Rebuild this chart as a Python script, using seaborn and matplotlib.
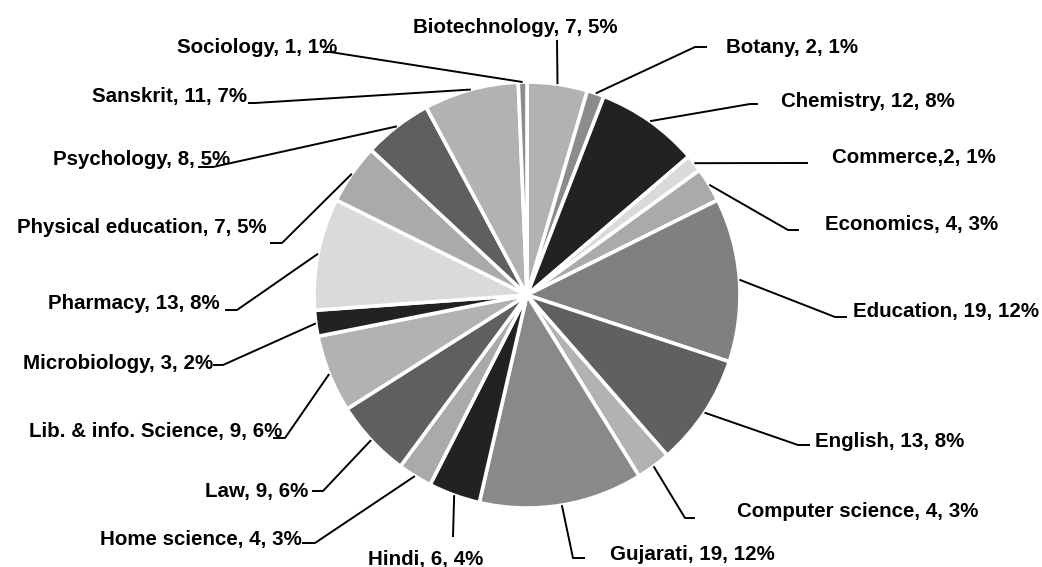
import numpy as np
import matplotlib
matplotlib.use('Agg')
import matplotlib.pyplot as plt
from matplotlib import font_manager
import seaborn as sns

# Subjects, clockwise from 12 o'clock
subjects = ['Biotechnology', 'Botany', 'Chemistry', 'Commerce', 'Economics', 'Education',
            'English', 'Computer science', 'Gujarati', 'Hindi', 'Home science', 'Law',
            'Lib. & info. Science', 'Microbiology', 'Pharmacy', 'Physical education',
            'Psychology', 'Sanskrit', 'Sociology']
counts = [7, 2, 12, 2, 4, 19, 13, 4, 19, 6, 4, 9, 9, 3, 13, 7, 8, 11, 1]
percents = [5, 1, 8, 1, 3, 12, 8, 3, 12, 4, 3, 6, 6, 2, 8, 5, 5, 7, 1]
# "Commerce,2, 1%" has no space in the original
separators = [', ', ', ', ', ', ',', ', ', ', ', ', ', ', ', ', ', ', ', ', ', ', ',
              ', ', ', ', ', ', ', ', ', ', ', ', ', ']
grays = ['#b2b2b2', '#8c8c8c', '#222222', '#dadada', '#aaaaaa', '#808080', '#606060',
         '#b2b2b2', '#898989', '#222222', '#aaaaaa', '#5f5f5f', '#b2b2b2', '#222222',
         '#dadada', '#aaaaaa', '#5f5f5f', '#b2b2b2', '#8c8c8c']

W, H = 1042, 567

# label layout in pixels from top-left: elbow point, end of leader, text anchor, alignment
label_layout = [
    ((557, 40), (557, 40), (413, 33), 'left'),
    ((695, 47), (707, 47), (726, 53), 'left'),
    ((750, 104), (758, 104), (781, 107), 'left'),
    ((800, 163), (808, 163), (832, 163), 'left'),
    ((788, 230), (799, 230), (825, 230), 'left'),
    ((835, 317), (847, 317), (853, 317), 'left'),
    ((798, 445), (810, 445), (815, 447), 'left'),
    ((685, 518), (695, 518), (737, 517), 'left'),
    ((573, 558), (585, 558), (610, 560), 'left'),
    ((453, 537), (453, 537), (368, 565), 'left'),
    ((315, 543), (302, 543), (302, 545), 'right'),
    ((323, 491), (312, 491), (308, 497), 'right'),
    ((285, 438), (273, 438), (282, 437), 'right'),
    ((223, 365), (213, 365), (213, 369), 'right'),
    ((237, 310), (225, 310), (220, 309), 'right'),
    ((282, 243), (270, 243), (267, 233), 'right'),
    ((213, 167), (198, 167), (230, 165), 'right'),
    ((255, 103), (248, 103), (247, 102), 'right'),
    ((330, 52), (323, 52), (337, 53), 'right'),
]

sns.set_theme(style='white')

# narrow bold sans if present, else regular width at a smaller size
try:
    font_manager.findfont('Liberation Sans Narrow', fallback_to_default=False)
    label_family, label_size = ['Liberation Sans Narrow', 'Liberation Sans'], 17.6
except ValueError:
    label_family, label_size = ['Liberation Sans', 'DejaVu Sans'], 14.8
plt.rcParams['font.family'] = label_family

fig = plt.figure(figsize=(W / 100, H / 100), dpi=100)
ax = fig.add_axes([0, 0, 1, 1])

cx, cy, R = 527, H - 295, 213
wedges, _ = ax.pie(counts, colors=grays, startangle=90, counterclock=False,
                   center=(cx, cy), radius=R,
                   wedgeprops=dict(edgecolor='white', linewidth=2.6))

ax.set_xlim(0, W)
ax.set_ylim(0, H)
ax.set_aspect('equal')
ax.axis('off')

for i, w in enumerate(wedges):
    ang = np.deg2rad((w.theta1 + w.theta2) / 2)
    x0, y0 = cx + R * np.cos(ang), cy + R * np.sin(ang)
    (ex, ey), (hx, hy), (tx, ty), ha = label_layout[i]
    ax.plot([x0, ex, hx], [y0, H - ey, H - hy], color='black', lw=1.4,
            solid_capstyle='butt', zorder=1)
    txt = f'{subjects[i]}{separators[i]}{counts[i]}, {percents[i]}%'
    ax.text(tx, H - ty, txt, ha=ha, va='baseline', fontsize=label_size,
            fontweight='bold', color='black')

fig.savefig('out.png', dpi=100, facecolor='white')
